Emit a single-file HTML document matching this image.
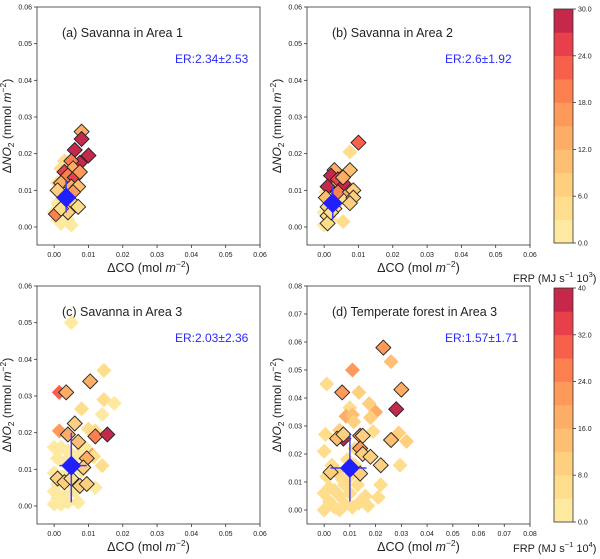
<!DOCTYPE html>
<html><head><meta charset="utf-8"><style>
body{margin:0;background:#fff;width:600px;height:559px;overflow:hidden}
svg{display:block;font-family:"Liberation Sans","DejaVu Sans",sans-serif}
</style></head><body>
<svg id="fig" width="600" height="559" viewBox="0 0 600 559" xmlns="http://www.w3.org/2000/svg"></svg>
<script>
// ---- data ----
const colors = ["#fee9a0","#fedd8c","#fecf7f","#febf72","#fdad66","#fd9a5a","#fc7f50","#f7604a","#e8404a","#c5284a"];
const cbTicksTop = ["0.0","6.0","12.0","18.0","24.0","30.0"];
const cbTicksBot = ["0.0","8.0","16.0","24.0","32.0","40"];
const ticks006 = ["0.00","0.01","0.02","0.03","0.04","0.05","0.06"];
const ticks008 = ["0.00","0.01","0.02","0.03","0.04","0.05","0.06","0.07","0.08"];
// points: [dCO, dNO2, FRP, outlined]
const ptsA = [[0.001,0.002,1,0],[0.002,0.001,1,0],[0.005,0.0005,1,0],[0.001,0.0065,2,0],[0.003,0.009,2,0],[0.002,0.0015,2,0],[0.004,0.002,1,0],[0,0.004,2,0],[0.003,0.018,3,0],[0.002,0.016,4,0],[0.001,0.012,3,0],
[0.008,0.026,14,1],[0.008,0.024,28,1],[0.006,0.021,28,1],[0.010,0.0195,28,1],[0.0075,0.0175,28,1],[0.005,0.018,20,1],[0.0055,0.016,12,1],[0.003,0.015,25,1],[0.004,0.014,18,1],[0.006,0.0135,25,1],[0.0075,0.015,16,1],[0.002,0.012,14,1],[0.005,0.011,12,1],[0.007,0.011,10,1],[0.0055,0.0095,16,1],[0.001,0.01,8,1],[0.004,0.0065,5,1],[0.006,0.006,6,1],[0.007,0.0055,5,1],[0.004,0.004,6,1],[0.0005,0.0035,18,1],[0.002,0.005,4,1]];
const ptsB = [[0.0075,0.0205,3,0],[0.0055,0.0015,3,0],[0,0.0005,1,0],[0,0.004,1,0],[0.0005,0.0095,2,0],[0.003,0.011,3,0],[0.002,0.002,1,0],[0.005,0.0075,3,0],
[0.010,0.023,22,1],[0.003,0.0155,12,1],[0.0075,0.0155,10,1],[0.002,0.014,28,1],[0.004,0.013,26,1],[0.006,0.0115,28,1],[0.001,0.011,27,1],[0.0055,0.0135,12,1],[0.004,0.0095,20,1],[0.0075,0.0095,14,1],[0.0085,0.010,8,1],[0.0085,0.008,6,1],[0.0075,0.0065,8,1],[0.0005,0.008,10,1],[0.001,0.0055,6,1],[0.003,0.005,6,1],[0.001,0.003,5,1],[0.001,0.001,4,1],[0.002,0.004,5,1]];
const ptsC = [[0.005,0.050,2,0],[0.0145,0.037,3,0],[0.0145,0.029,3,0],[0.0175,0.028,2,0],[0.014,0.025,2,0],[0.008,0.0265,4,0],[0.010,0.021,3,0],[0.012,0.0205,3,0],[0.0015,0.0205,15,0],[0.0015,0.031,22,0],[0.0105,0.0145,16,0],[0.0115,0.0135,3,0],[0.014,0.011,3,0],[0.012,0.005,2,0],[0.007,0.001,2,0],
[0,0.016,1,0],[0.002,0.016,1,0],[0.004,0.015,2,0],[0.001,0.013,1,0],[0.003,0.012,1,0],[0,0.009,1,0],[0.002,0.008,1,0],[0.004,0.009,1,0],[0,0.004,1,0],[0.001,0.002,1,0],[0.002,0.0005,1,0],[0.003,0.003,1,0],[0.004,0.001,1,0],[0.006,0.004,1,0],[0,0.0005,1,0],[0.001,0.006,1,0],[0.005,0.006,2,0],[0.008,0.0095,2,0],[0.009,0.016,2,0],[0.007,0.014,2,0],
[0.0105,0.034,14,1],[0.0035,0.031,14,1],[0.006,0.0225,8,1],[0.004,0.0195,14,1],[0.012,0.019,18,1],[0.0155,0.0195,28,1],[0.007,0.0175,10,1],[0.0095,0.013,12,1],[0.0085,0.0105,8,1],[0.001,0.0075,6,1],[0.003,0.0065,6,1],[0.0075,0.0055,8,1],[0.0095,0.006,6,1],[0.005,0.0075,5,1]];
const ptsD = [[0,0.021,4,0],[0.003,0.016,4,0],[0.005,0.0135,8,0],[0.001,0.012,4,0],[0.007,0.011,4,0],[0.009,0.018,4,0],[0.012,0.022,4,0],[0,0.006,4,0],[0.002,0.008,4,0],[0.004,0.007,4,0],[0.006,0.005,4,0],[0.008,0.009,4,0],[0.01,0.006,4,0],[0.002,0.003,4,0],[0.004,0.001,4,0],[0.008,0.002,4,0],[0.011,0.001,4,0],[0,0,4,0],[0.006,0,4,0],[0.013,0.009,4,0],[0.016,0.005,4,0],[0.012,0.016,4,0],[0.01,0.012,4,0],
[0.026,0.053,12,0],[0.011,0.050,22,0],[0.001,0.045,6,0],[0.0135,0.042,8,0],[0.0175,0.038,10,0],[0.010,0.0365,6,0],[0.0085,0.0335,18,0],[0.011,0.034,12,0],[0.020,0.035,18,0],[0.0115,0.0315,10,0],[0.018,0.033,8,0],[0.029,0.0275,8,0],[0.032,0.0245,8,0],[0.0005,0.027,6,0],[0.006,0.0285,10,0],[0.019,0.028,6,0],[0.0295,0.016,6,0],[0.022,0.009,6,0],[0.021,0.0045,6,0],[0.017,0.0015,6,0],[0.0135,0.0025,6,0],
[0.023,0.058,20,1],[0.030,0.043,18,1],[0.007,0.042,20,1],[0.028,0.036,38,1],[0.0075,0.0255,38,1],[0.005,0.0255,12,1],[0.0075,0.027,8,1],[0.014,0.0265,20,1],[0.015,0.0265,10,1],[0.026,0.025,12,1],[0.014,0.022,22,1],[0.015,0.020,8,1],[0.018,0.019,10,1],[0.022,0.016,10,1],[0.0025,0.0135,10,1],[0.014,0.013,8,1]];
// mean: [x, y, xlo, xhi, ylo, yhi]
const meanA = [0.0035,0.008,0.003,0.004,0.004,0.0125];
const meanB = [0.0025,0.0065,0.002,0.003,0.002,0.011];
const meanC = [0.005,0.011,0.0015,0.0095,0.001,0.020];
const meanD = [0.010,0.015,0.0025,0.0165,0.003,0.0275];

const NS="http://www.w3.org/2000/svg";
const svg=document.getElementById('fig');
function el(tag,attrs,parent){const e=document.createElementNS(NS,tag);for(const k in attrs)e.setAttribute(k,attrs[k]);(parent||svg).appendChild(e);return e;}

const panels=[
 {id:'a',title:'(a) Savanna in Area 1',er:'ER:2.34±2.53',L:37,R:260,T:7,B:245,xmax:0.06,ymax:0.06,y0:227,xt:ticks006,yt:ticks006,pts:ptsA,m:meanA,vmax:30},
 {id:'b',title:'(b) Savanna in Area 2',er:'ER:2.6±1.92',L:307,R:530,T:7,B:245,xmax:0.06,ymax:0.06,y0:227,xt:ticks006,yt:ticks006,pts:ptsB,m:meanB,vmax:30},
 {id:'c',title:'(c) Savanna in Area 3',er:'ER:2.03±2.36',L:37,R:260,T:286,B:524,xmax:0.06,ymax:0.06,y0:506,xt:ticks006,yt:ticks006,pts:ptsC,m:meanC,vmax:30},
 {id:'d',title:'(d) Temperate forest in Area 3',er:'ER:1.57±1.71',L:307,R:530,T:286,B:524,xmax:0.08,ymax:0.08,y0:510,xt:ticks008,yt:ticks008,pts:ptsD,m:meanD,vmax:40}
];
panels.forEach(p=>{
  const g=el('g',{});
  
  
  const xmin=-p.xmax/12;
  const sx=v=>p.L+(v-xmin)/(p.xmax-xmin)*(p.R-p.L);
  const sy=v=>p.y0-v/p.ymax*(p.y0-p.T);
  const fr=el('rect',{x:p.L,y:p.T,width:p.R-p.L,height:p.B-p.T,fill:'#fff',stroke:'#333','stroke-width':0.8},g);
  
  
  p.xt.forEach((t,i)=>{const v=i*0.01,x=sx(v);
    el('line',{x1:x,x2:x,y1:p.B,y2:p.B+3,stroke:'#333','stroke-width':0.8},g);
    const tx=el('text',{x:x,y:p.B+12,'font-size':7,'text-anchor':'middle',fill:'#222'},g);tx.textContent=t;
    
    });
  p.yt.forEach((t,i)=>{const v=i*0.01,y=sy(v);
    el('line',{x1:p.L-3,x2:p.L,y1:y,y2:y,stroke:'#333','stroke-width':0.8},g);
    const tx=el('text',{x:p.L-5,y:y+2.5,'font-size':7,'text-anchor':'end',fill:'#222'},g);tx.textContent=t;
    
    });
  const xl=el('text',{x:(p.L+p.R)/2,y:p.B+27,'font-size':12.5,'text-anchor':'middle',fill:'#222'},g);
  xl.innerHTML='ΔCO (mol <tspan font-style="italic">m</tspan><tspan dy="-5" font-size="8.5">−2</tspan><tspan dy="5">)</tspan>';
  
  
  const cy=(p.T+p.B)/2, lx=p.L-26;
  const yl=el('text',{x:lx,y:cy,'font-size':12,'text-anchor':'middle',fill:'#222',transform:`rotate(-90 ${lx} ${cy})`},g);
  yl.innerHTML='Δ<tspan font-style="italic">NO</tspan><tspan dy="3" font-size="8.5">2</tspan><tspan dy="-3"> (mmol </tspan><tspan font-style="italic">m</tspan><tspan dy="-5" font-size="8.5">−2</tspan><tspan dy="5">)</tspan>';
  
  
  const tt=el('text',{x:p.L+25,y:p.T+30,'font-size':12.5,fill:'#222'},g);tt.textContent=p.title;
  
  
  const er=el('text',{x:p.R-85,y:p.T+56,'font-size':12,fill:'#2a2aff'},g);er.textContent=p.er;
  
  
  const h=7.5;
  const order=p.pts.filter(d=>!d[3]).concat(p.pts.filter(d=>d[3]));
  order.forEach(d=>{const x=sx(d[0]),y=sy(d[1]);
    const ci=Math.min(9,Math.floor(d[2]/p.vmax*10));
    const m=el('polygon',{points:`${x},${y-h} ${x+h},${y} ${x},${y+h} ${x-h},${y}`,fill:colors[ci],stroke:d[3]?'#222':'none','stroke-width':0.9},g);
    
    });
  const m=p.m, mx=sx(m[0]), my=sy(m[1]);
  const eb1=el('line',{x1:sx(m[2]),x2:sx(m[3]),y1:my,y2:my,stroke:'#3c3cff','stroke-width':1.5},g);
  
  
  const eb2=el('line',{x1:mx,x2:mx,y1:sy(m[4]),y2:sy(m[5]),stroke:'#3c3cff','stroke-width':1.5},g);
  
  
  const H=10;
  const md=el('polygon',{points:`${mx},${my-H} ${mx+H},${my} ${mx},${my+H} ${mx-H},${my}`,fill:'#1f1fff'},g);
  
  
});
// colorbars
function colorbar(T,B,ticks,label,ly,name){
  const g=el('g',{});
  
  
  const L=554,W=19,hh=(B-T)/10;
  colors.forEach((c,i)=>{el('rect',{x:L,y:B-(i+1)*hh,width:W,height:hh+0.3,fill:c},g);});
  el('rect',{x:L,y:T,width:W,height:B-T,fill:'none',stroke:'#333','stroke-width':0.8},g);
  ticks.forEach((t,i)=>{const y=B-i*(B-T)/5;
    el('line',{x1:L+W,x2:L+W+3,y1:y,y2:y,stroke:'#333','stroke-width':0.8},g);
    const tx=el('text',{x:L+W+5,y:y+2.5,'font-size':7,fill:'#222'},g);tx.textContent=t;
    
    });
  const lb=el('text',{x:513,y:ly,'font-size':11,fill:'#222'},g);
  lb.innerHTML=label;
  
  
}
colorbar(9,243,cbTicksTop,'FRP (MJ s<tspan dy="-5" font-size="7.5">−1</tspan><tspan dy="5"> 10</tspan><tspan dy="-5" font-size="7.5">3</tspan><tspan dy="5">)</tspan>',282,'colorbar-top');
colorbar(288,522,cbTicksBot,'FRP (MJ s<tspan dy="-5" font-size="7.5">−1</tspan><tspan dy="5"> 10</tspan><tspan dy="-5" font-size="7.5">4</tspan><tspan dy="5">)</tspan>',552,'colorbar-bottom');
</script>
</body></html>
